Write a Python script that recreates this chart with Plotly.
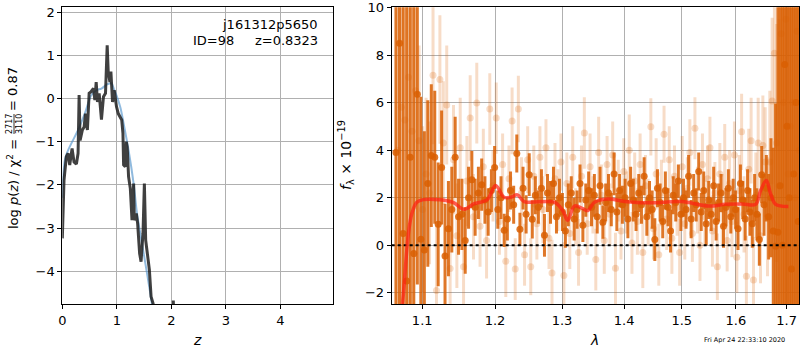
import numpy as np
import plotly.graph_objects as go

# ---- left panel: redshift probability -------------------------------------
z_pz = [0.0, 0.031, 0.074, 0.105, 0.136, 0.155, 0.179, 0.215, 0.258, 0.289,
        0.308, 0.326, 0.368, 0.40, 0.424, 0.46, 0.492, 0.523, 0.571, 0.597,
        0.621, 0.645, 0.676, 0.718, 0.755, 0.792, 0.823, 0.842, 0.873, 0.891,
        0.921, 0.952, 0.994, 1.026, 1.063, 1.09, 1.112, 1.124, 1.155, 1.173,
        1.19, 1.215, 1.247, 1.278, 1.308, 1.32, 1.357, 1.381, 1.418, 1.444,
        1.48, 1.505, 1.529, 1.565, 1.597, 1.628, 1.665, 1.70, 1.80, 2.035, 2.045]
logpz = [-3.24, -1.89, -1.35, -1.27, -1.54, -1.31, -1.16, -1.47, -1.52, -1.27,
         0.08, -0.97, -0.73, -0.66, -0.35, -0.73, 0.12, 0.15, 0.23, -0.04,
         0.38, -0.08, 0.12, -0.49, 0.04, 0.12, 1.23, 0.62, 0.38, 0.62,
         -0.08, 0.19, -0.19, -0.35, -0.43, -0.5, -0.81, -1.54, -1.58, -1.0,
         -1.12, -1.81, -2.08, -2.82, -1.97, -2.82, -2.66, -2.89, -3.59, -3.78,
         -3.12, -1.97, -3.28, -3.67, -3.97, -4.59, -4.75, -5.2, None, -4.68, -5.0]

z_smooth = [0.0, 0.013, 0.05, 0.105, 0.166, 0.289, 0.412, 0.534, 0.627, 0.718,
            0.829, 0.90, 0.952, 1.0, 1.063, 1.124, 1.215, 1.308, 1.37, 1.462,
            1.554, 1.628, 1.70]
logpz_smooth = [-2.3, -1.89, -1.4, -1.2, -1.04, -0.73, -0.35, 0.08, 0.19, 0.23,
                0.33, 0.35, 0.2, 0.05, -0.2, -0.58, -1.2, -1.97, -2.66, -3.36,
                -4.05, -4.63, -5.2]

# ---- right panel: spectrum -------------------------------------------------
wave_a = np.round(1.066 + 0.0046 * np.arange(144), 4)
flux_a = [3.9, 8.5, 0.5, -1.5, 3.7, -0.35, 6.35, 0.25, -0.2, 2.6,
          3.77, 3.7, 0.88, 3.27, -0.45, 0.7, 1.5, 3.7, 1.2, 1.3,
          0.2, 2.0, 2.76, 1.6, 2.2, 2.55, 1.9, 1.4, 2.3, 3.27,
          1.5, 2.0, 0.63, 1.1, 2.3, 1.7, 3.86, 0.67, 2.4, 1.3,
          2.97, 1.09, 2.1, 1.6, 2.4, 0.42, 2.2, 1.8, 2.6, 1.2,
          2.0, 1.4, 0.6, 1.7, 2.2, 1.1, 1.5, 2.6, 0.84, 1.9,
          2.3, 1.6, 2.1, 1.2, 2.5, 0.97, 1.8, 2.2, 1.5, 3.0,
          1.4, 2.3, 1.7, 2.0, 1.1, 2.6, 1.9, 1.3, 2.2, 1.7,
          2.9, 1.2, 2.0, 1.5, 0.24, 2.4, 1.8, 1.0, 2.3, 1.6,
          0.6, 2.1, 1.8, 2.7, 1.3, 2.0, 1.5, 2.9, 1.1, 2.2,
          1.7, 3.1, 1.4, 2.3, 0.9, 1.9, 1.3, 2.5, 1.0, 1.8,
          2.2, 0.8, 1.6, 2.4, 1.2, 2.0, 1.5, 0.7, 2.6, 1.9,
          1.1, 2.3, 1.4, 0.9, 2.0, 1.3, 0.24, 2.97, 1.7, 2.4,
          1.2, 2.0, 0.6, -0.04, 0.55, 2.5, 0.0, 7.6, 5.0, 2.0,
          -1.0, 3.0, 6.0, 1.0]
err_a = [30, 30, 30, 30, 25, 15, 8, 6, 5, 3.5,
         3.0, 2.8, 2.6, 2.4, 2.2, 2.0, 1.8, 1.7, 1.6, 1.5,
         1.4, 1.3, 1.2, 1.2, 1.1, 1.1, 1.0, 1.0, 0.9, 0.9,
         0.8, 0.9, 0.7, 0.9, 0.8, 0.8, 0.8, 0.7, 0.9, 0.8,
         0.9, 0.8, 0.8, 0.7, 0.8, 0.9, 0.8, 0.9, 0.7, 0.7,
         0.8, 0.8, 0.7, 0.9, 0.7, 0.9, 0.8, 0.8, 0.7, 0.7,
         0.8, 0.8, 0.9, 0.7, 0.8, 0.7, 0.8, 0.8, 0.7, 0.9,
         0.8, 0.7, 0.8, 0.8, 0.8, 0.7, 0.9, 0.7, 0.8, 0.8,
         0.8, 0.8, 0.7, 0.8, 0.9, 0.8, 0.8, 0.7, 0.8, 0.8,
         0.9, 0.8, 0.8, 0.7, 0.7, 0.8, 0.8, 0.9, 0.8, 0.8,
         0.7, 0.8, 0.8, 0.8, 0.9, 0.8, 0.7, 0.8, 0.8, 0.8,
         0.8, 0.9, 0.8, 0.8, 0.7, 0.8, 0.8, 0.9, 0.8, 0.8,
         0.9, 0.9, 1.0, 1.0, 1.0, 1.1, 1.1, 1.2, 1.3, 1.4,
         1.8, 2.5, 3.5, 6, 10, 20, 25, 30, 30, 30,
         30, 30, 30, 30]

wave_b = np.round(1.0683 + 0.0046 * np.arange(144), 4)
flux_b = [4.0, 5.8, 5.27, 7.07, 4.8, 6.5, 4.4, 1.5, 3.0, 2.2,
          7.15, -1.9, 6.97, 4.3, 5.9, -0.98, 3.6, 0.4, 4.1, -0.9,
          2.7, 5.35, 1.2, 5.98, 0.8, 3.3, 0.2, 5.73, 2.5, 5.35,
          1.0, 3.4, -0.67, 2.8, 5.23, -1.0, 5.73, 2.2, -0.4, 3.6,
          -0.9, 2.9, 0.9, 3.7, 1.5, 4.1, 0.3, -1.17, 2.8, 1.9,
          3.5, -1.27, 2.6, 0.5, 3.7, 1.2, -0.3, 2.9, 4.72, 0.9,
          3.3, 1.7, -0.6, 3.9, 2.1, 0.2, 3.4, 1.3, 3.8, -0.97,
          2.3, 0.6, 3.1, 1.8, 4.0, 0.1, 2.7, 1.0, 3.4, -0.3,
          2.5, 1.4, 4.98, 0.7, 3.0, -0.4, 2.2, 4.67, 1.1, 3.6,
          0.3, 2.9, 1.6, -0.3, 3.3, 0.9, 2.4, 3.9, 0.5, 4.92,
          1.9, 0.0, 3.4, 1.2, 2.8, 4.1, 0.6, 2.2, -0.9, 3.0,
          1.5, 3.7, 0.2, 2.6, 1.0, 3.8, -0.5, 2.3, 4.77, 1.3,
          -1.3, 3.2, 4.4, -1.46, 2.1, 4.3, 0.4, 4.2, 3.5, 1.2,
          3.5, 6.07, 8.08, 4.3, 2.5, 8.9, 6.0, 9.5, 3.0, 5.0,
          6.0, 2.0, 9.0, 4.0]
err_b = [30, 30, 25, 15, 8, 5, 4, 3.5, 3.2, 3.0,
         2.9, 2.8, 2.7, 2.6, 2.5, 2.4, 2.3, 2.2, 2.1, 2.0,
         1.9, 1.8, 1.8, 1.7, 1.7, 1.6, 1.6, 1.5, 1.5, 1.5,
         1.4, 1.3, 1.5, 1.4, 1.4, 1.3, 1.4, 1.5, 1.3, 1.4,
         1.2, 1.3, 1.5, 1.3, 1.4, 1.2, 1.3, 1.4, 1.5, 1.3,
         1.2, 1.4, 1.3, 1.5, 1.3, 1.2, 1.4, 1.3, 1.5, 1.3,
         1.4, 1.2, 1.3, 1.5, 1.3, 1.4, 1.2, 1.3, 1.4, 1.5,
         1.3, 1.2, 1.4, 1.3, 1.5, 1.3, 1.2, 1.4, 1.3, 1.5,
         1.3, 1.4, 1.2, 1.3, 1.5, 1.3, 1.4, 1.2, 1.3, 1.4,
         1.5, 1.3, 1.2, 1.4, 1.3, 1.5, 1.3, 1.4, 1.2, 1.3,
         1.4, 1.5, 1.3, 1.2, 1.4, 1.3, 1.5, 1.3, 1.4, 1.3,
         1.5, 1.4, 1.3, 1.4, 1.5, 1.4, 1.5, 1.5, 1.6, 1.6,
         1.7, 1.7, 1.8, 1.8, 1.8, 1.9, 2.0, 2.1, 2.3, 2.5,
         3.0, 3.5, 4, 5, 7, 9, 12, 15, 20, 25,
         30, 30, 30, 30]

wave_model = [1.0700, 1.0756, 1.0820, 1.0864, 1.0929, 1.1016, 1.1240, 1.1420,
              1.1560, 1.1699, 1.1889, 1.2009, 1.2129, 1.2230, 1.2325, 1.2423,
              1.2880, 1.3010, 1.3089, 1.3194, 1.3328, 1.3408, 1.3514, 1.3734,
              1.4011, 1.4295, 1.4701, 1.4999, 1.5489, 1.5801, 1.6121, 1.6381,
              1.6480, 1.6593, 1.6679, 1.6780, 1.7037]
flux_model = [-4.0, -2.02, 0.49, 1.33, 1.81, 1.92, 1.91, 1.79,
              1.51, 1.74, 1.92, 2.51, 2.02, 2.02, 2.12, 1.84,
              1.81, 1.46, 1.05, 1.65, 1.54, 1.46, 1.81, 1.95,
              1.84, 1.79, 1.81, 1.84, 1.65, 1.72, 1.74, 1.72,
              2.30, 2.72, 2.16, 1.72, 1.63]

z_ticks = [0, 1, 2, 3, 4]
pz_ticks = [-4, -3, -2, -1, 0, 1, 2]
wave_ticks = [1.1, 1.2, 1.3, 1.4, 1.5, 1.6, 1.7]
flux_ticks = [-2, 0, 2, 4, 6, 8, 10]

FONT = "DejaVu Sans"
ORANGE = "rgba(217,95,2,0.85)"
ORANGE_LIGHT = "rgba(217,95,2,0.22)"
W, H = 800, 350

fig = go.Figure()

# p(z)
fig.add_trace(go.Scatter(x=z_smooth, y=logpz_smooth, mode="lines", line_shape="spline",
                         line=dict(color="rgba(70,140,200,0.6)", width=2),
                         xaxis="x", yaxis="y", showlegend=False))
fig.add_trace(go.Scatter(x=z_pz, y=logpz, mode="lines", connectgaps=False,
                         line=dict(color="rgba(30,30,30,0.85)", width=3),
                         xaxis="x", yaxis="y", showlegend=False))

# spectra
fig.add_trace(go.Scatter(x=wave_b, y=flux_b, mode="markers",
                         marker=dict(color=ORANGE_LIGHT, size=7),
                         error_y=dict(type="data", array=err_b, color=ORANGE_LIGHT,
                                      thickness=3, width=0),
                         xaxis="x2", yaxis="y2", showlegend=False))
fig.add_trace(go.Scatter(x=wave_a, y=flux_a, mode="markers",
                         marker=dict(color=ORANGE, size=7),
                         error_y=dict(type="data", array=err_a, color=ORANGE,
                                      thickness=3, width=0),
                         xaxis="x2", yaxis="y2", showlegend=False))
fig.add_trace(go.Scatter(x=[1.0606, 1.726], y=[0, 0], mode="lines",
                         line=dict(color="black", width=2, dash="dot"),
                         xaxis="x2", yaxis="y2", showlegend=False))
fig.add_trace(go.Scatter(x=wave_model, y=flux_model, mode="lines", line_shape="spline",
                         line=dict(color="rgba(255,30,20,0.7)", width=3.5),
                         xaxis="x2", yaxis="y2", showlegend=False))

axis_common = dict(showline=True, linecolor="black", linewidth=1, mirror=True,
                   showgrid=True, gridcolor="#b0b0b0", gridwidth=1,
                   ticks="outside", ticklen=4, tickcolor="black", automargin=False,
                   tickfont=dict(family=FONT, size=13, color="black"), zeroline=False)


def px_note(text, x, y, size=13, angle=0, xanchor="center"):
    """Annotation placed by pixel position within the page."""
    return dict(text=text, x=x / W, y=1 - y / H, xref="paper", yref="paper",
                showarrow=False, xanchor=xanchor, yanchor="middle", textangle=angle,
                font=dict(family=FONT, size=size, color="black"))


annotations = [
    px_note("j161312p5650", 320, 25, xanchor="right"),
    px_note("ID=98     z=0.8323", 320, 40, xanchor="right"),
    px_note("<i>z</i>", 197, 340, size=14),
    px_note("<i>λ</i>", 594, 340, size=14),
    # y title of the p(z) panel, with a stacked fraction
    px_note("log <i>p</i>(<i>z</i>) / χ<sup>2</sup> =", 13, 184, angle=-90),
    px_note("2717", 9, 124, size=8, angle=-90),
    px_note("3110", 19, 124, size=8, angle=-90),
    px_note("= 0.87", 13, 89, angle=-90),
    px_note("<i>f</i><sub>λ</sub> × 10<sup>−19</sup>", 346, 155, size=14, angle=-90),
    px_note("Fri Apr 24 22:33:10 2020", 744, 340, size=6.5),
]

fig.update_layout(
    width=W, height=H,
    margin=dict(l=0, r=0, t=0, b=0),
    paper_bgcolor="white", plot_bgcolor="white",
    xaxis=dict(domain=[0.0779, 0.4166], range=[0, 4.97], tickvals=z_ticks, anchor="y",
               **axis_common),
    yaxis=dict(domain=[0.1314, 0.979], range=[-4.76, 2.11], tickvals=pz_ticks, anchor="x",
               **axis_common),
    xaxis2=dict(domain=[0.4896, 0.9991], type="log",
                range=[np.log10(1.0606), np.log10(1.726)],
                tickvals=wave_ticks, ticktext=[str(t) for t in wave_ticks], anchor="y2",
                **axis_common),
    yaxis2=dict(domain=[0.1314, 0.979], range=[-2.47, 10.005], tickvals=flux_ticks,
                anchor="x2", **axis_common),
    annotations=annotations,
    shapes=[dict(type="line", xref="paper", yref="paper",
                 x0=14 / W, x1=14 / W, y0=1 - 114 / H, y1=1 - 134 / H,
                 line=dict(color="black", width=0.8))],
)

fig.write_html("out.html")
